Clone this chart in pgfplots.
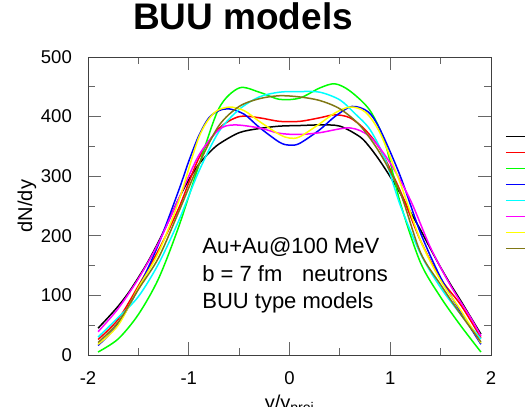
\documentclass[border=0pt]{standalone}
\usepackage{fontspec}
\setmainfont{Liberation Sans}
\usepackage{pgfplots}
\pgfplotsset{compat=1.18}
\definecolor{cgreen}{rgb}{0,1,0}
\definecolor{cblue}{rgb}{0,0,1}
\definecolor{cred}{rgb}{1,0,0}
\definecolor{ccyan}{rgb}{0,1,1}
\definecolor{cmag}{rgb}{1,0,1}
\definecolor{cyel}{rgb}{1,1,0}
\definecolor{colive}{RGB}{128,120,20}
\pgfplotstableread{
x y
-1.9 45
-1.8 63
-1.7 82
-1.6 104
-1.5 130
-1.4 158
-1.3 190
-1.2 225
-1.1 262
-1.0 294
-0.9 320
-0.8 339
-0.7 354
-0.5 373
-0.3 380
-0.1 384
0.1 385
0.3 386
0.5 384
0.7 366
0.8 348
0.9 325
1.0 299
1.1 271
1.2 240
1.3 210
1.4 178
1.5 147
1.6 118
1.7 91
1.8 63
1.9 35
}\tblack
\pgfplotstableread{
x y
-1.9 26
-1.7 60
-1.5 116
-1.3 176
-1.1 246
-0.9 330
-0.7 380
-0.5 400
-0.3 398
-0.1 392
0.1 392
0.3 398
0.45 403
0.6 398
0.75 378
0.9 345
1.1 275
1.3 192
1.5 128
1.7 84
1.9 29
}\tred
\pgfplotstableread{
x y
-1.9 5
-1.7 27
-1.5 68
-1.3 128
-1.1 215
-0.9 318
-0.7 414
-0.5 448
-0.3 441
-0.1 429
0.1 431
0.3 448
0.45 455
0.6 443
0.8 410
0.95 355
1.1 255
1.3 155
1.5 97
1.7 49
1.9 5
}\tgreen
\pgfplotstableread{
x y
-1.9 16
-1.7 52
-1.5 112
-1.3 186
-1.1 276
-1.0 325
-0.9 368
-0.8 398
-0.7 410
-0.6 413
-0.45 404
-0.3 382
-0.1 357
0 352
0.1 355
0.3 378
0.45 400
0.62 417
0.78 408
0.9 378
1.1 300
1.3 205
1.5 130
1.7 72
1.9 18
}\tblue
\pgfplotstableread{
x y
-1.9 30
-1.7 63
-1.5 98
-1.3 153
-1.1 225
-0.9 308
-0.7 375
-0.5 412
-0.3 433
-0.1 441
0.1 442
0.3 441
0.5 428
0.65 405
0.8 378
0.95 328
1.1 251
1.3 170
1.5 113
1.7 68
1.9 27
}\tcyan
\pgfplotstableread{
x y
-1.9 39
-1.7 78
-1.5 128
-1.3 188
-1.1 262
-0.9 335
-0.7 378
-0.55 386
-0.3 381
-0.1 372
0.1 370
0.3 373
0.6 381
0.8 366
1.0 322
1.2 260
1.4 180
1.6 116
1.8 62
1.9 32
}\tmag
\pgfplotstableread{
x y
-1.9 18
-1.7 50
-1.5 113
-1.3 172
-1.1 258
-0.9 365
-0.75 406
-0.6 416
-0.45 410
-0.3 392
-0.1 370
0 364
0.1 366
0.3 388
0.45 406
0.6 416
0.75 408
0.9 372
1.1 288
1.3 192
1.5 125
1.7 75
1.9 20
}\tyel
\pgfplotstableread{
x y
-1.9 21
-1.7 55
-1.5 110
-1.3 163
-1.1 240
-0.9 320
-0.7 385
-0.5 417
-0.3 430
-0.1 435
0.1 433
0.3 427
0.5 413
0.7 385
0.9 338
1.1 272
1.3 172
1.5 118
1.7 68
1.9 22
}\tolive
\begin{document}
\begin{tikzpicture}
\begin{axis}[
  scale only axis, width=403pt, height=298pt,
  xmin=-2, xmax=2, ymin=0, ymax=500,
  xtick={-2,-1,0,1,2}, ytick={0,100,200,300,400,500},
  minor xtick={-1.5,-0.5,0.5,1.5}, minor ytick={50,150,250,350,450},
  tick align=inside, major tick length=13pt, minor tick length=7pt,
  every tick/.style={color=black!60, line width=0.9pt},
  axis line style={color=black!75, line width=0.9pt},
  /pgf/number format/assume math mode=true,
  ticklabel style={font=\fontsize{18.5}{20}\selectfont, inner sep=0pt},
  xticklabel style={yshift=-16.7pt},
  yticklabel style={xshift=-16pt},
  xlabel={y/y\textsubscript{proj}},
  xlabel style={at={(rel axis cs:0.5,0)}, anchor=north, yshift=-40pt, inner sep=0pt, font=\fontsize{20}{22}\selectfont},
  ylabel={dN/dy},
  ylabel style={at={(rel axis cs:0,0.5)}, anchor=center, yshift=61pt, inner sep=0pt, font=\fontsize{20}{22}\selectfont},
  title={BUU models},
  title style={at={(rel axis cs:0.3846,1)}, anchor=base, yshift=22pt, inner sep=0pt, font=\fontsize{37}{40}\selectfont\bfseries},
  legend style={at={(rel axis cs:1.0347,0.7594)}, anchor=north west, draw=none, fill=none, inner sep=0pt, outer sep=0pt, row sep=0pt, column sep=0pt, nodes={inner sep=0pt, outer sep=0pt, text height=7.975pt, text depth=7.975pt}},
  legend cell align=left,
  legend image code/.code={\draw[#1, line width=1.6pt] (0pt,0pt) -- (30pt,0pt);},
  every axis plot/.append style={line width=1.5pt, smooth, no markers},
]
\addplot[black] table {\tblack}; \addlegendentry{\strut}
\addplot[cred] table {\tred}; \addlegendentry{\strut}
\addplot[cgreen] table {\tgreen}; \addlegendentry{\strut}
\addplot[cblue] table {\tblue}; \addlegendentry{\strut}
\addplot[ccyan] table {\tcyan}; \addlegendentry{\strut}
\addplot[cmag] table {\tmag}; \addlegendentry{\strut}
\addplot[cyel] table {\tyel}; \addlegendentry{\strut}
\addplot[colive] table {\tolive}; \addlegendentry{\strut}
\node[anchor=base west, inner sep=0pt, font=\fontsize{22}{26}\selectfont] at (axis cs:-0.867,170.6) {Au+Au@100 MeV};
\node[anchor=base west, inner sep=0pt, font=\fontsize{22}{26}\selectfont] at (axis cs:-0.867,123.0) {b = 7 fm\hspace{0.9em}neutrons};
\node[anchor=base west, inner sep=0pt, font=\fontsize{22}{26}\selectfont] at (axis cs:-0.867,78.4) {BUU type models};
\coordinate (bl) at (rel axis cs:0,0);
\coordinate (tr) at (rel axis cs:1,1);
\end{axis}
\pgfresetboundingbox
\path[use as bounding box] ([shift={(-88pt,-52pt)}]bl) rectangle ([shift={(34pt,57pt)}]tr);
\end{tikzpicture}
\end{document}
